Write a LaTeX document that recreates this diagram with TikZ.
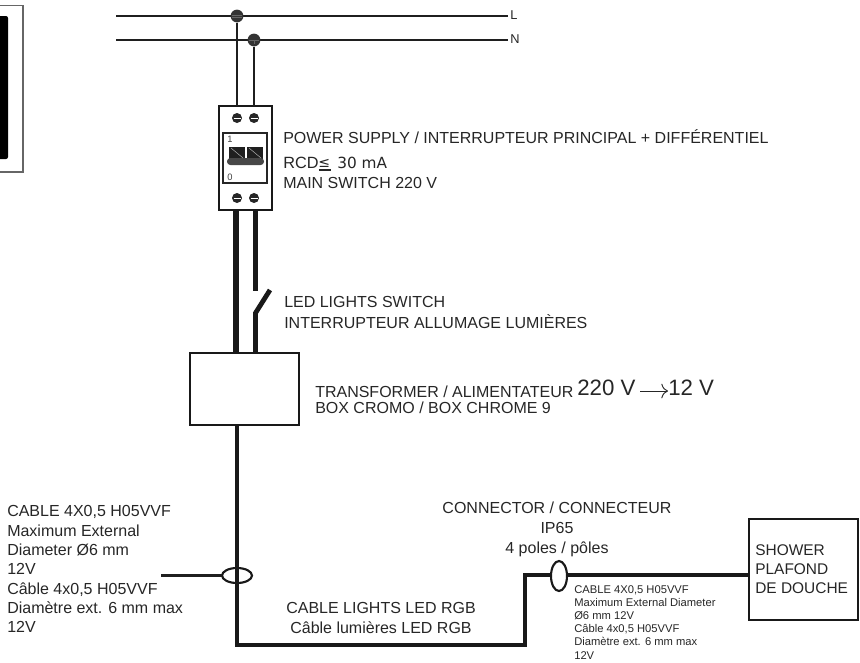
\documentclass[tikz,border=0pt]{standalone}
\usepackage{fontspec}
\usetikzlibrary{arrows.meta}
\setmainfont{Liberation Sans}
\newfontfamily\djfont{DejaVu Sans}
\tikzset{
  px/.style={x=0.75pt,y=-0.75pt},
  txt/.style={inner sep=0pt,anchor=west,font=\fontsize{12pt}{14pt}\selectfont,text=black!85},
  blk/.style={inner sep=0pt,align=left,anchor=north west,font=\fontsize{12pt}{14.5pt}\selectfont,text=black!85},
  small/.style={inner sep=0pt,align=left,anchor=north west,font=\fontsize{8.4pt}{9.9pt}\selectfont,text=black!85},
  wire/.style={draw=black!88,line width=1.6pt},
  thick wire/.style={draw=black!90,line width=4.4pt},
  mid wire/.style={draw=black!90,line width=3.6pt},
  screw/.style={circle,fill=black!85,minimum size=7.5pt,inner sep=0pt},
  dot/.style={circle,fill=black!80,minimum size=9.6pt,inner sep=0pt},
}
\begin{document}
\begin{tikzpicture}[px]
\useasboundingbox (0,0) rectangle (860,662);
% left fragment
\draw[draw=black!60,line width=0.8pt] (-5,5.5) -- (23,5.5) -- (23,172) -- (-5,172);
\fill[black,rounded corners=1.5pt] (-5,16) rectangle (8,159);
% mains
\coordinate (l0) at (116,16); \coordinate (l1) at (508,16);
\coordinate (n0) at (116,40); \coordinate (n1) at (508,40);
\draw[wire] (l0) -- (l1);
\draw[wire] (n0) -- (n1);
\node[txt,font=\fontsize{9.6pt}{12pt}\selectfont] (Ltxt) at (510,15) {L};
\node[txt,font=\fontsize{9.6pt}{12pt}\selectfont] (Ntxt) at (510,39) {N};
\node[dot] (dl) at (237,16) {};
\node[dot] (dn) at (254,40) {};
\draw[draw=black!60,line width=0.5pt] (232,15) -- (242,15) (232,17) -- (242,17) (249,40) -- (259,40) (254,40) -- (254,44);
% breaker
\node[draw=black!90,line width=1.6pt,minimum width=39.75pt,minimum height=78pt,inner sep=0pt] (brk) at (245.5,158) {};
\draw[wire] (dl) -- (237,106);
\draw[wire] (dn) -- (254,106);
\node[draw=black!85,line width=1.1pt,minimum width=33pt,minimum height=37.5pt,inner sep=0pt] (inner) at (245,158) {};
\foreach \n/\x/\y in {a/237/118,b/254/118,c/237/198,d/254/198}{
  \node[screw] (s\n) at (\x,\y) {};
  \draw[white,line width=0.6pt] (\x-3.5,\y) -- (\x+3.5,\y);
}
\node[inner sep=0pt,font=\fontsize{7pt}{8pt}\selectfont,text=black!75] (one) at (230,139.5) {1};
\node[inner sep=0pt,font=\fontsize{7pt}{8pt}\selectfont,text=black!75] (zero) at (230,177) {0};
\fill[black!88] (228.5,147) rectangle (244.5,160);
\fill[black!88] (246.5,147) rectangle (262.5,160);
\fill[black!72,rounded corners=2.5pt] (227,158) rectangle (264,165);
\draw[white!70!black,line width=0.35pt] (231,148) -- (243,158) (249,148) -- (261,158);
% thick wires
\coordinate (sw0) at (255.5,291); \coordinate (sw1) at (255.5,313); \coordinate (sw2) at (270,290);
\node[draw=black!90,line width=1.3pt,minimum width=81.75pt,minimum height=54pt,inner sep=0pt] (tr) at (244.5,389) {};
\draw[thick wire] (236,210) -- (236,353);
\draw[mid wire] (255.5,210) -- (sw0);
\draw[mid wire] (255.5,353) -- (sw1) -- (sw2);
% labels
\node[txt] (t1) at (283,137) {POWER SUPPLY / INTERRUPTEUR PRINCIPAL + DIFFÉRENTIEL};
\node[txt,font=\fontsize{12.2pt}{14pt}\selectfont] (t2) at (283,163) {RCD};
\node[txt,font=\djfont\fontsize{10.5pt}{12pt}\selectfont] (t2b) at (318,163) {≤};
\draw[black!85,line width=1pt] (318.5,170) -- (330.5,170);
\node[txt,font=\djfont\fontsize{11.5pt}{13pt}\selectfont] (t2c) at (337,163) {30 mA};
\node[txt] (t3) at (283,183) {MAIN SWITCH 220 V};
\node[txt] (t4) at (284,302) {LED LIGHTS SWITCH};
\node[txt] (t5) at (284,322) {INTERRUPTEUR ALLUMAGE LUMIÈRES};
\node[txt] (t6) at (315,392) {TRANSFORMER / ALIMENTATEUR};
\node[txt,font=\fontsize{16.7pt}{18pt}\selectfont] (v1) at (577,388) {220 V};
\node[txt,font=\fontsize{16.7pt}{18pt}\selectfont] (v2) at (668,388) {12 V};
\coordinate (arr) at (640,391);
\draw[black!85,line width=0.7pt,-{To[length=5pt,width=11pt]}] (arr) -- (v2.west |- arr);
\node[txt] (t8) at (315,408) {BOX CROMO / BOX CHROME 9};
% bottom cable
\coordinate (c0) at (237,425); \coordinate (c1) at (237,645); \coordinate (c2) at (525,645); \coordinate (c3) at (525,575);
\node[draw=black!90,line width=1.6pt,minimum width=81.75pt,minimum height=75.75pt,inner sep=0pt] (shower) at (803.5,569.5) {};
\draw[draw=black!90,line width=3.6pt] (c0) -- (c1) -- (c2) -- (c3) -- (shower.west |- c3);
\draw[draw=black!90,line width=1.6pt] (237,575.5) ellipse [x radius=15,y radius=7.5];
\draw[draw=black!90,line width=1.6pt,fill=white] (559,576) ellipse [x radius=8,y radius=15];
\draw[wire] (161,575.5) -- (222,575.5);
\node[blk] (t9) at (7,505.5) {CABLE 4X0,5 H05VVF\\Maximum External\\Diameter Ø6 mm\\12V\\Câble 4x0,5 H05VVF\\Diamètre ext. 6 mm max\\12V};
\node[txt,anchor=center,align=center,font=\fontsize{12pt}{15pt}\selectfont] (t10) at (381,618) {CABLE LIGHTS LED RGB\\Câble lumières LED RGB};
\node[txt,anchor=center,align=center,font=\fontsize{12pt}{15pt}\selectfont] (t11) at (557,529) {CONNECTOR / CONNECTEUR\\IP65\\4 poles / pôles};
\node[small] (t12) at (574,585) {CABLE 4X0,5 H05VVF\\Maximum External Diameter\\Ø6 mm 12V\\Câble 4x0,5 H05VVF\\Diamètre ext. 6 mm max\\12V};
\node[blk,font=\fontsize{11.6pt}{14.25pt}\selectfont] (t13) at (755,544) {SHOWER\\PLAFOND\\DE DOUCHE};
\end{tikzpicture}
\end{document}
